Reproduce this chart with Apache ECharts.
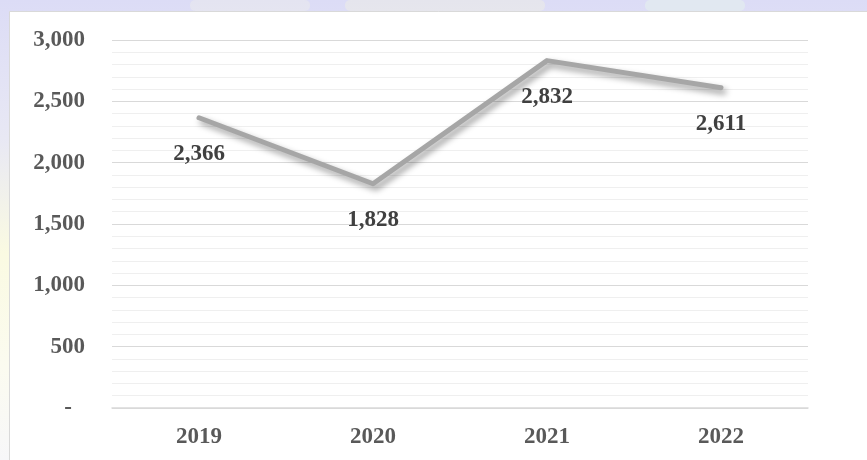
<!DOCTYPE html>
<html>
<head>
<meta charset="utf-8">
<script src="https://cdn.jsdelivr.net/npm/echarts@6/dist/echarts.min.js"></script>
<style>
html,body{margin:0;padding:0;background:#fff;}
#c{width:867px;height:460px;}
</style>
</head>
<body>
<div id="c"></div>
<script>
const categories = ['2019', '2020', '2021', '2022'];
const values = [2366, 1828, 2832, 2611];
const yTicks = [0, 500, 1000, 1500, 2000, 2500, 3000];

const chart = echarts.init(document.getElementById('c'));
const fmt = v => v.toLocaleString('en-US');
const FS = 23;

chart.setOption({
  animation: false,
  backgroundColor: 'transparent',
  graphic: [
    {type: 'rect', z: -10, shape: {x: 0, y: 0, width: 867, height: 460},
     style: {fill: new echarts.graphic.LinearGradient(0, 0, 0, 1, [
       {offset: 0, color: '#dcdcf6'},
       {offset: 0.3, color: '#e8e8f4'},
       {offset: 0.55, color: '#fafae2'},
       {offset: 0.8, color: '#fbfbf0'},
       {offset: 1, color: '#f7f7f9'}
     ])}},
    {type: 'rect', z: -9, shape: {x: 190, y: 0, width: 120, height: 11, r: 5}, style: {fill: '#f3f3e8', opacity: 0.35}},
    {type: 'rect', z: -9, shape: {x: 345, y: 0, width: 200, height: 11, r: 5}, style: {fill: '#f6f6dc', opacity: 0.35}},
    {type: 'rect', z: -9, shape: {x: 645, y: 0, width: 100, height: 11, r: 5}, style: {fill: '#e6f6ec', opacity: 0.45}},
    {type: 'rect', z: -8, shape: {x: 9.5, y: 11.5, width: 870, height: 460},
     style: {fill: '#ffffff', stroke: '#d9d9d9', lineWidth: 1}}
  ],
  grid: {left: 112, right: 59, top: 40, bottom: 52, containLabel: false},
  xAxis: {
    type: 'category',
    data: categories,
    boundaryGap: true,
    axisLine: {show: true, lineStyle: {color: '#d9d9d9', width: 1.5}},
    axisTick: {show: false},
    axisLabel: {color: '#595959', fontFamily: 'Liberation Serif', fontWeight: 'bold', fontSize: FS, margin: 18}
  },
  yAxis: {
    type: 'value',
    min: 0, max: 3000, interval: 500,
    axisLine: {show: false},
    axisTick: {show: false},
    splitLine: {show: true, lineStyle: {color: '#d9d9d9', width: 1}},
    minorTick: {show: false, splitNumber: 5},
    minorSplitLine: {show: true, lineStyle: {color: '#efefef', width: 1}},
    axisLabel: {
      color: '#595959', fontFamily: 'Liberation Serif', fontWeight: 'bold', fontSize: FS, margin: 27,
      formatter: v => v === 0 ? '{d|-}' : fmt(v),
      rich: {d: {color: '#595959', fontFamily: 'Liberation Serif', fontWeight: 'bold', fontSize: FS, padding: [0, 13, 0, 0]}}
    }
  },
  series: [{
    type: 'line',
    data: values,
    symbol: 'circle',
    symbolSize: 1,
    itemStyle: {color: '#a6a6a6'},
    lineStyle: {color: '#a6a6a6', width: 5, cap: 'round', join: 'round',
      shadowColor: 'rgba(0,0,0,0.4)', shadowBlur: 6, shadowOffsetX: 3, shadowOffsetY: 4},
    label: {
      show: true, position: 'bottom', distance: 24,
      color: '#404040', fontFamily: 'Liberation Serif', fontWeight: 'bold', fontSize: FS,
      formatter: p => fmt(p.value)
    }
  }]
});
</script>
</body>
</html>
